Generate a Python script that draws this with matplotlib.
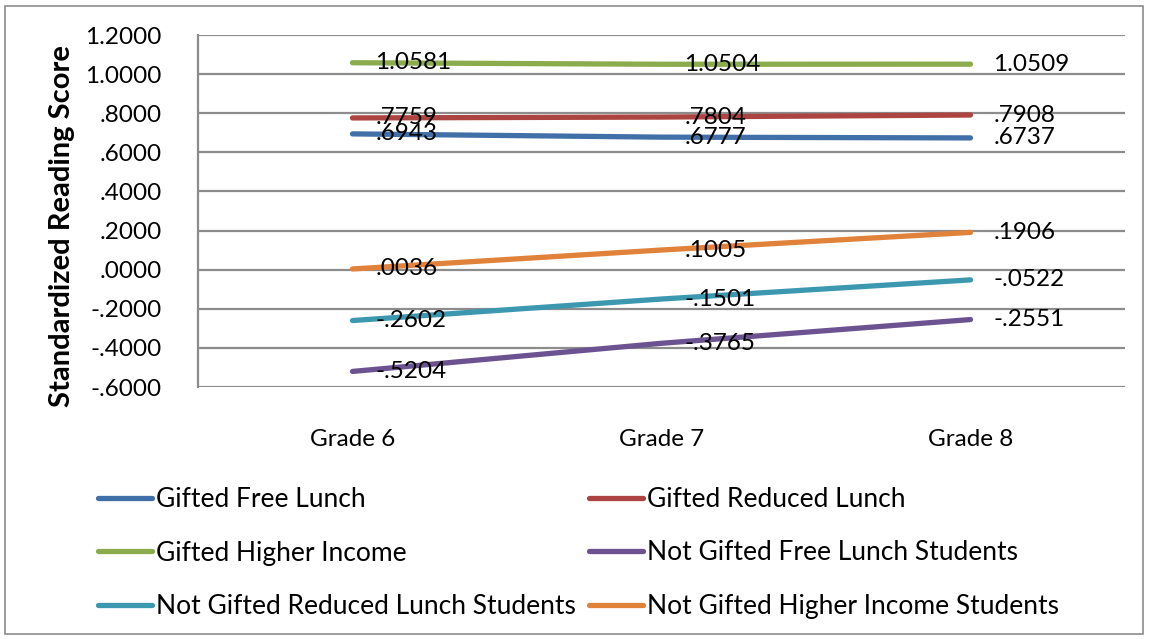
# reading_scores_by_grade.py
#
# Line chart: standardized reading score by grade, gifted vs not gifted
# students split by lunch status / income.

import matplotlib
matplotlib.use("Agg")
import matplotlib.pyplot as plt
from matplotlib.patches import Rectangle
from matplotlib.ticker import FuncFormatter, MultipleLocator

# -----------------------------
# DATA
# -----------------------------
grades = ["Grade 6", "Grade 7", "Grade 8"]

gifted_free = [0.6943, 0.6777, 0.6737]
gifted_reduced = [0.7759, 0.7804, 0.7908]
gifted_higher = [1.0581, 1.0504, 1.0509]
not_gifted_free = [-0.5204, -0.3765, -0.2551]
not_gifted_reduced = [-0.2602, -0.1501, -0.0522]
not_gifted_higher = [0.0036, 0.1005, 0.1906]

series_names = [
    "Gifted Free Lunch",
    "Gifted Reduced Lunch",
    "Gifted Higher Income",
    "Not Gifted Free Lunch Students",
    "Not Gifted Reduced Lunch Students",
    "Not Gifted Higher Income Students",
]
series_values = [gifted_free, gifted_reduced, gifted_higher,
                 not_gifted_free, not_gifted_reduced, not_gifted_higher]
colors = ["#4170A8", "#AC4542", "#8AAC4C", "#6C5290", "#3C98AF", "#E0823A"]

# -----------------------------
# STYLE
# -----------------------------
plt.rcParams["font.family"] = ["Lato", "DejaVu Sans"]
FS = 17.5
GRID = "#8C8C8C"

W, H = 1149, 639
fig = plt.figure(figsize=(W / 100, H / 100), dpi=100)

# axes box in pixel coords of the reference
left, right, top, bottom = 198, 1125, 35, 387
ax = fig.add_axes([left / W, 1 - bottom / H, (right - left) / W, (bottom - top) / H])


def fmt(v):
    s = f"{v:.4f}"
    return s.replace("0.", ".", 1) if abs(v) < 1 else s


x = list(range(len(grades)))
handles = []
for name, vals, col in zip(series_names, series_values, colors):
    h, = ax.plot(x, vals, color=col, lw=3.8, solid_capstyle="round", label=name, zorder=3)
    handles.append(h)
    for xi, v in zip(x, vals):
        ax.annotate(fmt(v), (xi, v), xytext=(23, 0), textcoords="offset pixels",
                    ha="left", va="center", fontsize=FS, color="black", zorder=4)

ax.set_xlim(-0.5, 2.5)
ax.set_ylim(-0.6, 1.2)
ax.yaxis.set_major_locator(MultipleLocator(0.2))
ax.yaxis.set_major_formatter(FuncFormatter(lambda v, p: fmt(round(v, 4))))
ax.set_xticks(x)
ax.set_xticklabels(grades)
ax.tick_params(axis="both", length=0, labelsize=FS)
ax.tick_params(axis="y", pad=26)
ax.tick_params(axis="x", pad=30)

ax.yaxis.grid(True, color=GRID, lw=1.6)
ax.set_axisbelow(True)
for side in ["top", "right", "bottom"]:
    ax.spines[side].set_visible(False)
ax.spines["left"].set_color(GRID)
ax.spines["left"].set_linewidth(1.6)

fig.text(62 / W, 1 - 226 / H, "Standardized Reading Score", rotation=90,
         ha="center", va="center", fontsize=21, fontweight="bold")

# -----------------------------
# LEGEND (two columns, row-major order)
# -----------------------------
leg_kw = dict(loc="upper left", frameon=False, fontsize=19, handlelength=2.05,
              handletextpad=0.15, labelspacing=1.08, borderpad=0, borderaxespad=0)
leg1 = fig.legend([handles[0], handles[2], handles[4]],
                  [series_names[0], series_names[2], series_names[4]],
                  bbox_to_anchor=(98 / W, 1 - 487 / H), **leg_kw)
leg2 = fig.legend([handles[1], handles[3], handles[5]],
                  [series_names[1], series_names[3], series_names[5]],
                  bbox_to_anchor=(589 / W, 1 - 487 / H), **leg_kw)

# outer chart border
fig.patches.append(Rectangle((5 / W, 5 / H), 1 - 11 / W, 1 - 11 / H,
                             transform=fig.transFigure, fill=False,
                             edgecolor="#8C8C8C", lw=1.2))

fig.savefig("out.png", dpi=100, facecolor="white")
